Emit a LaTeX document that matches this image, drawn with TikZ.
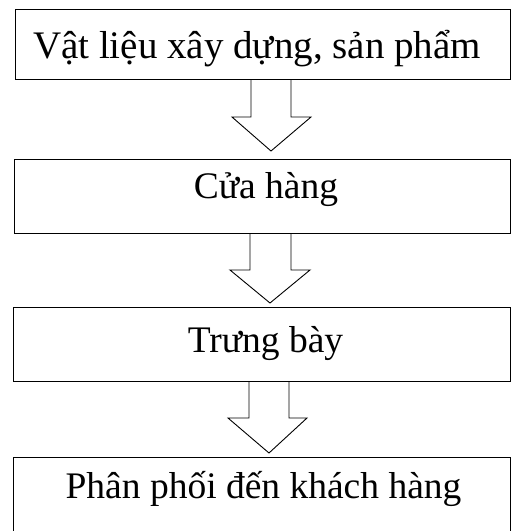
\documentclass[tikz,border=0pt]{standalone}
\usepackage{fontspec}
\setmainfont{Liberation Serif}
\begin{document}
\begin{tikzpicture}[x=1pt,y=-1pt,
  boxline/.style={draw=black,line width=1pt},
  stagebox/.style={boxline,rectangle,inner sep=0pt,anchor=north west},
  boxtext/.style={anchor=base,inner sep=0pt,font=\fontsize{37.5}{40}\selectfont},
  arrowline/.style={draw=black,line width=0.9pt,line join=miter}]
\useasboundingbox (0,0) rectangle (512,531);
\clip (0,0) rectangle (512,531);
% boxes
\node[stagebox,minimum width=495pt,minimum height=70pt] (b1) at (15,9) {};
\node[stagebox,minimum width=496pt,minimum height=74pt] (b2) at (14,159) {};
\node[stagebox,minimum width=497pt,minimum height=74pt] (b3) at (13,307) {};
\node[stagebox,minimum width=497pt,minimum height=90pt] (b4) at (13,457) {};
% texts
\node[boxtext,font=\fontsize{39}{42}\selectfont] (t1) at (257,58) {Vật liệu xây dựng, sản phẩm};
\node[boxtext] (t2) at (266,198) {Cửa hàng};
\node[boxtext] (t3) at (265.5,352) {Trưng bày};
\node[boxtext] (t4) at (263.5,498) {Phân phối đến khách hàng};
% block arrows
\draw[arrowline] (251,79) -- (251,117) -- (232,117) -- (271,151) -- (311,117) -- (291,117) -- (291,79);
\draw[arrowline] (250,233) -- (250,270) -- (230,270) -- (270,303) -- (310,270) -- (291,270) -- (291,233);
\draw[arrowline] (249,381) -- (249,418) -- (228,418) -- (269,453) -- (307,418) -- (289,418) -- (289,381);
\end{tikzpicture}
\end{document}
